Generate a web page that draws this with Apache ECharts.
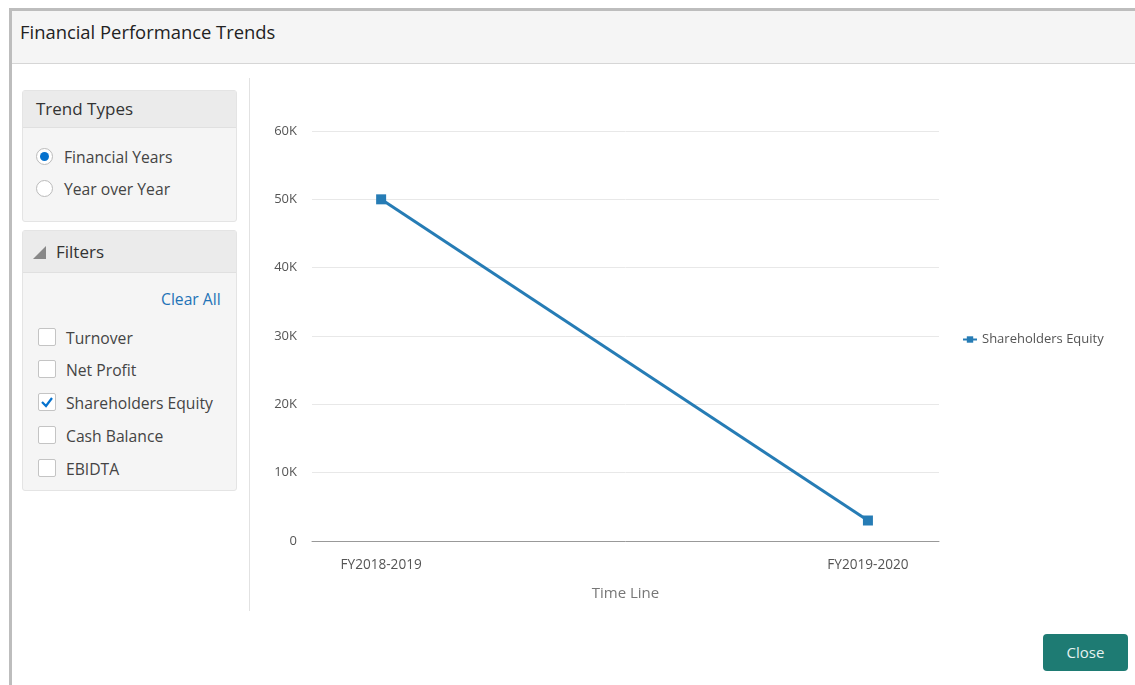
<!DOCTYPE html>
<html>
<head>
<meta charset="utf-8">
<script src="https://cdn.jsdelivr.net/npm/echarts@6/dist/echarts.min.js"></script>
<style>
  html, body { margin: 0; padding: 0; width: 1135px; height: 685px; background: #fff; overflow: hidden;
    font-family: "Open Sans", "Noto Sans", sans-serif; color: #333; }
  .frame { position: absolute; left: 9px; top: 8px; width: 1126px; height: 677px; border-left: 3px solid #bdbdbd; border-top: 3px solid #bdbdbd; box-sizing: border-box; }
  .header { position: absolute; left: 12px; top: 11px; width: 1123px; height: 52px; background: #f5f5f5; border-bottom: 1px solid #d6d6d6; }
  .header span { position: absolute; left: 8px; top: 8px; font-size: 18.4px; color: #222; }
  .divider { position: absolute; left: 249px; top: 78px; width: 1px; height: 533px; background: #e2e2e2; }
  .box { position: absolute; left: 22px; width: 215px; background: #f5f5f5; border: 1px solid #e4e4e4; border-radius: 3px; box-sizing: border-box; }
  .box .hd { height: 36px; background: #ebebeb; border-bottom: 1px solid #e0e0e0; font-size: 17px; color: #333; padding-left: 13px; line-height: 35px; }
  .row { position: absolute; left: 13px; font-size: 15.7px; color: #444; }
  .radio { position: absolute; width: 17px; height: 17px; border: 1px solid #bbb; border-radius: 50%; background: #fff; box-sizing: border-box; }
  .radio.on::after { content: ""; position: absolute; left: 3px; top: 3px; width: 9px; height: 9px; border-radius: 50%; background: #0572ce; }
  .cb { position: absolute; width: 18px; height: 18px; border: 1px solid #c4c4c4; border-radius: 2px; background: #fff; box-sizing: border-box; }
  #chart { position: absolute; left: 250px; top: 64px; width: 885px; height: 560px; }
  .btn { position: absolute; left: 1043px; top: 634px; width: 85px; height: 37px; background: #1e7b73; border-radius: 4px; color: #e6f2f0; font-size: 15px; text-align: center; line-height: 37px; }
</style>
</head>
<body>
<div class="frame"></div>
<div class="header"><span>Financial Performance Trends</span></div>

<div class="box" style="top:90px;height:132px;">
  <div class="hd">Trend Types</div>
  <div class="radio on" style="left:13px;top:57px;"></div>
  <div class="row" style="left:41px;top:55px;">Financial Years</div>
  <div class="radio" style="left:13px;top:89px;"></div>
  <div class="row" style="left:41px;top:87px;">Year over Year</div>
</div>

<div class="box" style="top:230px;height:261px;">
  <div class="hd" style="height:41px;line-height:42px;padding-left:10px;"><span style="display:inline-block;width:0;height:0;border-left:13px solid transparent;border-bottom:13px solid #888;margin-right:10px;vertical-align:-1px;"></span>Filters</div>
  <div class="row" style="left:138px;top:57px;color:#1f73b7;">Clear All</div>
  <div class="cb" style="left:15px;top:97px;"></div>
  <div class="row" style="left:43px;top:96px;">Turnover</div>
  <div class="cb" style="left:15px;top:129px;"></div>
  <div class="row" style="left:43px;top:128px;">Net Profit</div>
  <div class="cb" style="left:15px;top:162px;"><svg width="16" height="16" style="position:absolute;left:0;top:0;"><path d="M3 8 L7 12 L13 4" stroke="#0572ce" stroke-width="2.2" fill="none"/></svg></div>
  <div class="row" style="left:43px;top:161px;">Shareholders Equity</div>
  <div class="cb" style="left:15px;top:195px;"></div>
  <div class="row" style="left:43px;top:194px;">Cash Balance</div>
  <div class="cb" style="left:15px;top:228px;"></div>
  <div class="row" style="left:43px;top:227px;">EBIDTA</div>
</div>

<div class="divider"></div>
<div id="chart"></div>
<div class="btn">Close</div>

<script>
const categories = ["FY2018-2019", "FY2019-2020"];
const seriesName = "Shareholders Equity";
const equityValues = [50000, 3000];
const yTicks = [0, 10000, 20000, 30000, 40000, 50000, 60000];

const chart = echarts.init(document.getElementById('chart'), null, { renderer: 'canvas' });
chart.setOption({
  animation: false,
  textStyle: { fontFamily: '"Open Sans", "Noto Sans", sans-serif' },
  grid: { left: 62, right: 196, top: 67, bottom: 83 },
  legend: {
    orient: 'vertical', left: 707, top: 264,
    itemWidth: 14, itemHeight: 8,
    textStyle: { color: '#555', fontSize: 13 },
    data: [seriesName]
  },
  xAxis: {
    type: 'value', min: -0.142, max: 1.146,
    name: 'Time Line', nameLocation: 'middle', nameGap: 45,
    nameTextStyle: { color: '#777', fontSize: 15 },
    axisLine: { show: true, lineStyle: { color: '#999', width: 1 } },
    axisTick: { show: false },
    splitLine: { show: false },
    axisLabel: {
      customValues: [0, 1], color: '#555', fontSize: 13.6, margin: 17,
      formatter: v => categories[Math.round(v)] || ''
    }
  },
  yAxis: {
    type: 'value', min: yTicks[0], max: yTicks[yTicks.length - 1], interval: 10000,
    axisLine: { show: false }, axisTick: { show: false },
    splitLine: { lineStyle: { color: '#e8e8e8' } },
    axisLabel: { color: '#555', fontSize: 13, margin: 15,
      formatter: v => v === 0 ? '0' : (v / 1000) + 'K' }
  },
  series: [{
    name: seriesName, type: 'line',
    data: equityValues.map((v, i) => [i, v]),
    symbol: 'rect', symbolSize: 10,
    lineStyle: { color: '#267cb5', width: 3 },
    itemStyle: { color: '#267cb5' }
  }]
});
</script>
</body>
</html>
